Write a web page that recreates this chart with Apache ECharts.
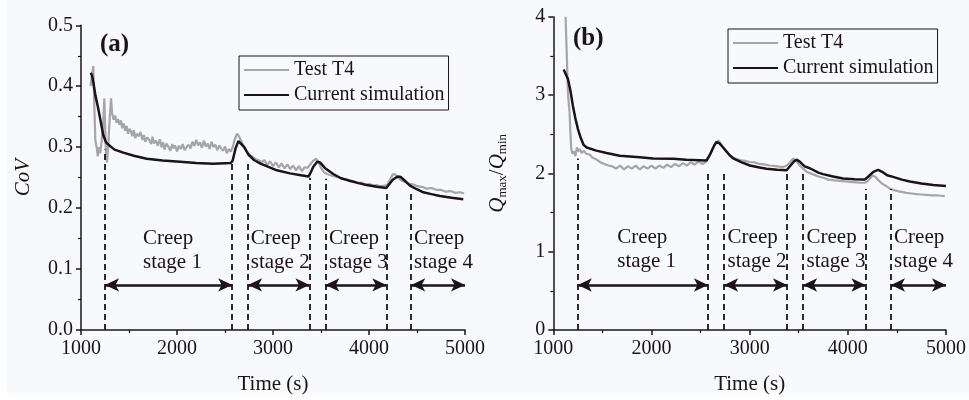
<!DOCTYPE html>
<html>
<head>
<meta charset="utf-8">
<script src="https://cdn.jsdelivr.net/npm/echarts@6/dist/echarts.min.js"></script>
<style>
html,body{margin:0;padding:0;background:#ffffff;}
#bg{position:absolute;left:7px;top:0;width:962px;height:393px;background:#f8f9fd;}
#chart{position:absolute;left:0;top:0;width:969px;height:400px;}
</style>
</head>
<body>
<div id="bg"></div>
<div id="chart"></div>
<script>
// ---------- Panel (a): CoV ----------
const testTimeA = [1100,1115,1128,1140,1150,1163,1175,1188,1200,1215,1230,1243,1252,1260,1270,1283,1300,1313,1325,1340,1355,1370,1385,1400,1415,1430,1445,1460,1475,1490,1505,1520,1535,1550,1565,1580,1600,1620,1640,1655,1670,1690,1710,1730,1745,1760,1780,1800,1820,1840,1855,1870,1890,1910,1930,1950,1965,1980,2000,2020,2040,2060,2080,2100,2120,2140,2160,2180,2200,2220,2240,2260,2280,2300,2320,2340,2360,2380,2400,2420,2440,2460,2480,2500,2520,2540,2560,2580,2600,2625,2645,2670,2700,2730,2760,2790,2820,2850,2880,2910,2940,2970,3000,3030,3060,3090,3120,3150,3180,3210,3240,3270,3300,3330,3360,3390,3420,3450,3475,3500,3530,3560,3600,3640,3680,3720,3760,3800,3840,3880,3920,3960,4000,4040,4080,4120,4160,4190,4220,4250,4275,4300,4340,4380,4420,4460,4500,4550,4600,4650,4700,4750,4800,4850,4900,4950,4990];
const testCoV = [0.400,0.420,0.433,0.360,0.310,0.300,0.285,0.300,0.290,0.310,0.340,0.380,0.330,0.290,0.275,0.300,0.350,0.380,0.355,0.345,0.352,0.340,0.346,0.337,0.344,0.331,0.339,0.327,0.335,0.322,0.330,0.326,0.318,0.328,0.315,0.322,0.318,0.325,0.312,0.320,0.309,0.316,0.312,0.305,0.317,0.306,0.311,0.302,0.313,0.300,0.308,0.296,0.306,0.301,0.294,0.305,0.298,0.303,0.293,0.302,0.297,0.305,0.295,0.300,0.304,0.298,0.309,0.302,0.312,0.303,0.308,0.299,0.311,0.301,0.306,0.297,0.309,0.300,0.304,0.295,0.303,0.298,0.294,0.301,0.290,0.297,0.293,0.300,0.312,0.322,0.318,0.310,0.300,0.292,0.287,0.284,0.280,0.279,0.275,0.279,0.271,0.277,0.269,0.275,0.267,0.273,0.265,0.272,0.264,0.270,0.262,0.269,0.261,0.267,0.266,0.272,0.278,0.281,0.275,0.266,0.259,0.256,0.254,0.252,0.251,0.248,0.247,0.244,0.244,0.241,0.242,0.238,0.240,0.237,0.238,0.236,0.237,0.238,0.247,0.256,0.255,0.250,0.245,0.243,0.240,0.239,0.236,0.235,0.232,0.233,0.230,0.230,0.227,0.228,0.225,0.226,0.224];
const simTimeA = [1100,1115,1130,1150,1180,1210,1232,1260,1302,1350,1441,1550,1684,1850,2031,2200,2375,2560,2580,2610,2640,2660,2700,2743,2800,2870,2934,3040,3177,3290,3370,3385,3420,3460,3490,3540,3628,3708,3802,3890,3976,4080,4180,4200,4250,4300,4330,4380,4427,4497,4566,4650,4740,4860,4982];
const simCoV = [0.422,0.418,0.405,0.385,0.363,0.338,0.320,0.308,0.302,0.296,0.291,0.286,0.281,0.278,0.276,0.274,0.273,0.274,0.278,0.298,0.310,0.310,0.300,0.288,0.279,0.273,0.269,0.262,0.257,0.254,0.252,0.256,0.268,0.276,0.275,0.266,0.256,0.249,0.245,0.241,0.238,0.235,0.233,0.237,0.247,0.252,0.251,0.244,0.237,0.231,0.226,0.223,0.220,0.217,0.2145];

// ---------- Panel (b): Qmax/Qmin ----------
const testTimeB = [1125,1135,1150,1165,1175,1183,1195,1210,1225,1240,1255,1269,1290,1310,1336,1370,1400,1438,1480,1520,1560,1600,1640,1680,1720,1760,1800,1840,1880,1920,1960,2000,2040,2080,2120,2160,2200,2240,2280,2320,2360,2400,2440,2480,2520,2560,2600,2629,2655,2680,2700,2730,2760,2798,2850,2900,2950,3002,3050,3100,3150,3200,3250,3300,3341,3380,3410,3443,3480,3510,3545,3579,3640,3700,3760,3800,3870,3950,4020,4088,4130,4172,4200,4230,4257,4285,4320,4360,4400,4427,4470,4520,4597,4650,4700,4750,4800,4850,4900,4950,4987];
const testQ = [4.00,3.60,3.00,2.80,2.50,2.31,2.25,2.28,2.22,2.33,2.28,2.31,2.26,2.29,2.25,2.24,2.20,2.18,2.14,2.12,2.10,2.09,2.06,2.10,2.05,2.09,2.06,2.10,2.05,2.09,2.06,2.10,2.06,2.10,2.07,2.11,2.08,2.12,2.09,2.13,2.10,2.14,2.11,2.15,2.12,2.15,2.25,2.33,2.39,2.42,2.39,2.33,2.28,2.23,2.19,2.17,2.16,2.145,2.14,2.12,2.115,2.10,2.095,2.085,2.08,2.10,2.14,2.19,2.15,2.10,2.06,2.02,1.99,1.96,1.94,1.92,1.91,1.90,1.89,1.885,1.88,1.88,1.90,1.94,1.975,1.95,1.90,1.86,1.83,1.806,1.785,1.77,1.75,1.743,1.735,1.73,1.725,1.72,1.718,1.714,1.71];
const simTimeB = [1106,1120,1150,1175,1200,1225,1251,1280,1309,1340,1438,1543,1676,1882,2015,2221,2354,2561,2600,2640,2663,2690,2730,2790,2832,2920,3002,3100,3172,3280,3376,3410,3450,3477,3510,3560,3613,3700,3748,3850,3952,4070,4172,4210,4260,4308,4350,4400,4461,4550,4631,4750,4870,5000];
const simQ = [3.325,3.30,3.20,3.05,2.86,2.70,2.566,2.45,2.363,2.33,2.29,2.26,2.225,2.205,2.19,2.185,2.175,2.165,2.25,2.36,2.40,2.385,2.33,2.24,2.19,2.14,2.10,2.075,2.06,2.045,2.04,2.09,2.15,2.175,2.15,2.09,2.065,2.01,1.99,1.96,1.935,1.925,1.92,1.96,2.02,2.045,2.02,1.975,1.955,1.92,1.895,1.87,1.85,1.84];

// ---------- Stage annotations ----------
const stageBounds = [1250, 2575, 2740, 3380, 3545, 4180, 4440];
const dashTopA = [0.296, 0.275, 0.274, 0.250, 0.248, 0.227, 0.226];
const dashTopB = [2.19, 2.02, 2.02, 2.00, 2.00, 1.80, 1.80];
const stageArrows = [[1250, 2575], [2740, 3380], [3545, 4180], [4440, 5000]];
const arrowYA = 0.074, arrowYB = 0.575;
const stageNames = ['Creep\nstage 1', 'Creep\nstage 2', 'Creep\nstage 3', 'Creep\nstage 4'];
const labelTimeA = [1646, 2768, 3583, 4469];
const labelTimeB = [1651, 2775, 3579, 4471];
const labelYA = 0.130, labelYB = 1.025;

const xTicks = [1000, 2000, 3000, 4000, 5000];
const yTicksA = [0.0, 0.1, 0.2, 0.3, 0.4, 0.5];
const yTicksB = [0, 1, 2, 3, 4];

// ---------- Styling ----------
const FONT = 'Liberation Serif';
const INK = '#1c1414';
const GRAY = '#a6a6a6';
const pairs = (xs, ys) => xs.map((x, i) => [x, ys[i]]);

function xAxisCfg(gi) {
  return {
    type: 'value', gridIndex: gi, min: xTicks[0], max: xTicks[xTicks.length - 1], interval: 1000,
    name: 'Time (s)', nameLocation: 'middle', nameGap: 44,
    nameTextStyle: { fontFamily: FONT, fontSize: 21, color: INK },
    axisLine: { show: true, onZero: false, lineStyle: { color: INK, width: 1.5 } },
    axisTick: { show: true, length: 5, lineStyle: { color: INK, width: 1.5 } },
    minorTick: { show: true, splitNumber: 2, length: 3, lineStyle: { color: INK, width: 1.2 } },
    axisLabel: { fontFamily: FONT, fontSize: 20, color: INK, margin: 9, formatter: v => String(v) },
    splitLine: { show: false }
  };
}
function yAxisCfg(gi, ticks, interval, fmt, name, nameGap, rich) {
  return {
    type: 'value', gridIndex: gi, min: ticks[0], max: ticks[ticks.length - 1], interval: interval,
    name: name, nameLocation: 'middle', nameGap: nameGap, nameRotate: 90,
    nameTextStyle: { fontFamily: FONT, fontSize: 21, color: INK, fontStyle: 'italic', rich: rich },
    axisLine: { show: true, onZero: false, lineStyle: { color: INK, width: 1.5 } },
    axisTick: { show: true, length: 5, lineStyle: { color: INK, width: 1.5 } },
    minorTick: { show: true, splitNumber: 2, length: 3, lineStyle: { color: INK, width: 1.2 } },
    axisLabel: { fontFamily: FONT, fontSize: 20, color: INK, margin: 8, formatter: fmt },
    splitLine: { show: false }
  };
}

function dashLines(tops) {
  return stageBounds.map((t, i) => [{ coord: [t, 0] }, { coord: [t, tops[i]] }]);
}
function arrowLines(y) {
  return stageArrows.map(a => [{ coord: [a[0], y] }, { coord: [a[1], y] }]);
}
function stageLabels(times, y) {
  return times.map((t, i) => ({ name: stageNames[i], coord: [t, y] }));
}

function testSeries(gi, data, arrowY) {
  return {
    name: 'Test T4', type: 'line', xAxisIndex: gi, yAxisIndex: gi, data: data,
    showSymbol: false, symbol: 'none', clip: false, z: 2,
    lineStyle: { color: GRAY, width: 2.2 }, itemStyle: { color: GRAY },
    markLine: {
      silent: true, symbol: ['arrow', 'arrow'], symbolSize: [10, 14],
      label: { show: false },
      lineStyle: { color: INK, width: 2.6, type: 'solid' },
      emphasis: { disabled: true },
      data: arrowLines(arrowY)
    }
  };
}
function simSeries(gi, data, tops, labTimes, labY) {
  return {
    name: 'Current simulation', type: 'line', xAxisIndex: gi, yAxisIndex: gi, data: data,
    showSymbol: false, symbol: 'none', clip: false, z: 3,
    lineStyle: { color: INK, width: 2.5 }, itemStyle: { color: INK },
    markLine: {
      silent: true, symbol: 'none', label: { show: false },
      lineStyle: { color: INK, width: 1.8, type: [6, 4] },
      emphasis: { disabled: true },
      data: dashLines(tops)
    },
    markPoint: {
      silent: true, symbol: 'circle', symbolSize: 0,
      label: {
        show: true, position: 'right', distance: 0, formatter: '{b}',
        fontFamily: FONT, fontSize: 21, lineHeight: 24, color: INK, align: 'left'
      },
      data: stageLabels(labTimes, labY)
    }
  };
}

function legendCfg(left, top) {
  return {
    left: left, top: top, orient: 'vertical', data: ['Test T4', 'Current simulation'],
    itemWidth: 45, itemHeight: 14, itemGap: 5, padding: [4, 4, 5, 4],
    borderColor: INK, borderWidth: 1, borderRadius: 0,
    itemStyle: { opacity: 0, borderWidth: 0 },
    textStyle: { fontFamily: FONT, fontSize: 20, color: INK, lineHeight: 20 },
    selectedMode: false
  };
}

const chart = echarts.init(document.getElementById('chart'), null, { renderer: 'canvas' });
chart.setOption({
  animation: false,
  backgroundColor: 'transparent',
  title: [
    { text: '(a)', left: 95, top: 27, padding: 5, textStyle: { fontFamily: FONT, fontSize: 25, fontWeight: 'bold', color: INK } },
    { text: '(b)', left: 568, top: 21, padding: 5, textStyle: { fontFamily: FONT, fontSize: 25, fontWeight: 'bold', color: INK } }
  ],
  legend: [legendCfg(239, 56), legendCfg(728, 29)],
  grid: [
    { left: 81, top: 25.3, width: 384, height: 310, containLabel: false },
    { left: 553.3, top: 16.7, width: 393.4, height: 316, containLabel: false }
  ],
  xAxis: [xAxisCfg(0), xAxisCfg(1)],
  yAxis: [
    yAxisCfg(0, yTicksA, 0.1, v => v.toFixed(1), 'CoV', 47, {}),
    yAxisCfg(1, yTicksB, 1, v => String(v), '{q|Q}{s|max}{n|/}{q|Q}{s|min}', 44, {
      q: { fontFamily: FONT, fontSize: 21, fontStyle: 'italic', color: INK, lineHeight: 24 },
      n: { fontFamily: FONT, fontSize: 21, fontStyle: 'normal', color: INK, lineHeight: 24 },
      s: { fontFamily: FONT, fontSize: 13, fontStyle: 'normal', color: INK, lineHeight: 14, verticalAlign: 'bottom' }
    })
  ],
  series: [
    testSeries(0, pairs(testTimeA, testCoV), arrowYA),
    simSeries(0, pairs(simTimeA, simCoV), dashTopA, labelTimeA, labelYA),
    testSeries(1, pairs(testTimeB, testQ), arrowYB),
    simSeries(1, pairs(simTimeB, simQ), dashTopB, labelTimeB, labelYB)
  ]
});
</script>
</body>
</html>
